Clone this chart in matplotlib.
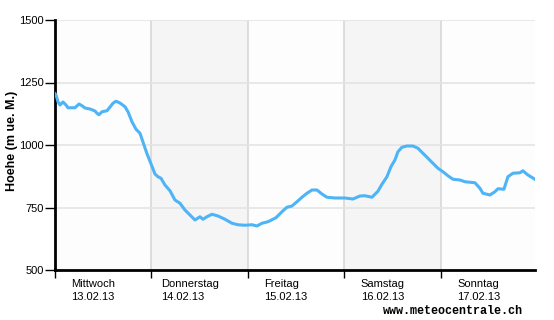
import matplotlib
matplotlib.use("Agg")
import matplotlib.pyplot as plt

# hours since Wednesday 13.02.13 00:00
hours = [0.0, 0.25, 0.75, 1.24, 1.99, 2.74, 3.23, 4.97, 5.97, 6.72, 7.46, 8.70, 9.95,
         10.45, 10.94, 11.69, 12.93, 13.68, 14.42, 15.17, 16.17, 17.41, 18.16, 19.15,
         20.15, 21.14, 22.14, 22.88, 23.63, 24.12, 24.87, 25.62, 26.36, 27.36, 28.60,
         29.84, 31.09, 32.33, 33.58, 34.82, 36.06, 36.81, 37.80, 39.05, 40.54, 42.28,
         44.02, 45.51, 47.25, 49.00, 50.24, 51.48, 52.97, 54.96, 56.46, 57.70, 58.94,
         60.19, 61.43, 62.67, 63.92, 65.16, 66.40, 67.65, 69.64, 72.12, 74.11, 75.85,
         77.10, 78.84, 80.33, 81.33, 82.57, 83.57, 84.56, 85.31, 86.30, 87.54, 89.04,
         90.28, 91.52, 92.77, 94.01, 95.25, 96.50, 97.74, 98.99, 100.73, 101.97, 104.46,
         105.70, 106.45, 108.19, 109.43, 110.18, 111.67, 112.66, 113.91, 115.65, 116.39,
         117.64, 119.38]
height = [1205, 1200, 1173, 1160, 1172, 1160, 1149, 1149, 1164, 1157, 1148, 1144, 1136,
          1127, 1121, 1133, 1137, 1152, 1167, 1175, 1168, 1153, 1133, 1093,
          1063, 1047, 1000, 965, 935, 915, 884, 873, 867, 840, 817,
          780, 767, 740, 720, 700, 713, 703, 713, 723, 716, 703,
          687, 681, 679, 681, 676, 687, 693, 709, 733, 751, 756,
          773, 791, 807, 820, 820, 804, 791, 788, 788, 784, 796,
          797, 791, 815, 843, 873, 913, 940, 973, 991, 996, 996,
          987, 967, 947, 927, 907, 893, 877, 863, 860, 853, 849,
          827, 807, 800, 813, 825, 823, 873, 887, 889, 897,
          880, 863]

day_names = ["Mittwoch", "Donnerstag", "Freitag", "Samstag", "Sonntag"]
day_dates = ["13.02.13", "14.02.13", "15.02.13", "16.02.13", "17.02.13"]
yticks = [500, 750, 1000, 1250, 1500]

plt.rcParams['font.family'] = ['Liberation Sans', 'DejaVu Sans']

fig = plt.figure(figsize=(5.54, 3.20), dpi=100)
fig.patch.set_facecolor('white')
ax = fig.add_axes([55/554, 50/320, 480/554, 250/320])
ax.set_facecolor('#fdfdfd')
xmax = 119.4
ax.set_xlim(0, xmax)
ax.set_ylim(500, 1500)

for i in range(len(day_names)):
    if i % 2 == 1:
        ax.axvspan(i*24, min((i+1)*24, xmax), color='#f5f5f5', lw=0, zorder=0)
for i in range(1, len(day_names)):
    ax.axvline(i*24, color='#d8d8d8', lw=1.2, zorder=1)
for v in yticks[1:]:
    ax.axhline(v, color='#e4e4e4', lw=1.2, zorder=1)

ax.plot(hours, height, color='#4db4f7', lw=2.2, zorder=3, solid_joinstyle='round')

for s in ['top', 'right']:
    ax.spines[s].set_visible(False)
for s in ['left', 'bottom']:
    ax.spines[s].set_linewidth(2)
    ax.spines[s].set_color('black')

ax.set_yticks(yticks)
ax.set_yticklabels([str(v) for v in yticks], fontsize=8)
ax.tick_params(axis='y', length=7, width=1, pad=1, direction='out')
ax.set_xticks([i*24 for i in range(len(day_names))])
ax.set_xticklabels([])
ax.tick_params(axis='x', length=6, width=1, direction='out')

for i, (n, d) in enumerate(zip(day_names, day_dates)):
    ax.text(i*24 + 9.5, 493 - 7*4, n + "\n" + d, ha='center', va='top',
            multialignment='left', fontsize=8, linespacing=1.45)

ax.set_ylabel("Hoehe (m ue. M.)", fontsize=9, fontweight='bold')
ax.yaxis.set_label_coords(-0.077, 0.518)

fig.text(523/554, 1 - 311/320, "www.meteocentrale.ch", ha='right', va='center',
         fontsize=8.5, fontweight='bold', family=['Liberation Mono', 'DejaVu Sans Mono'])

fig.savefig("out.png", dpi=100)
